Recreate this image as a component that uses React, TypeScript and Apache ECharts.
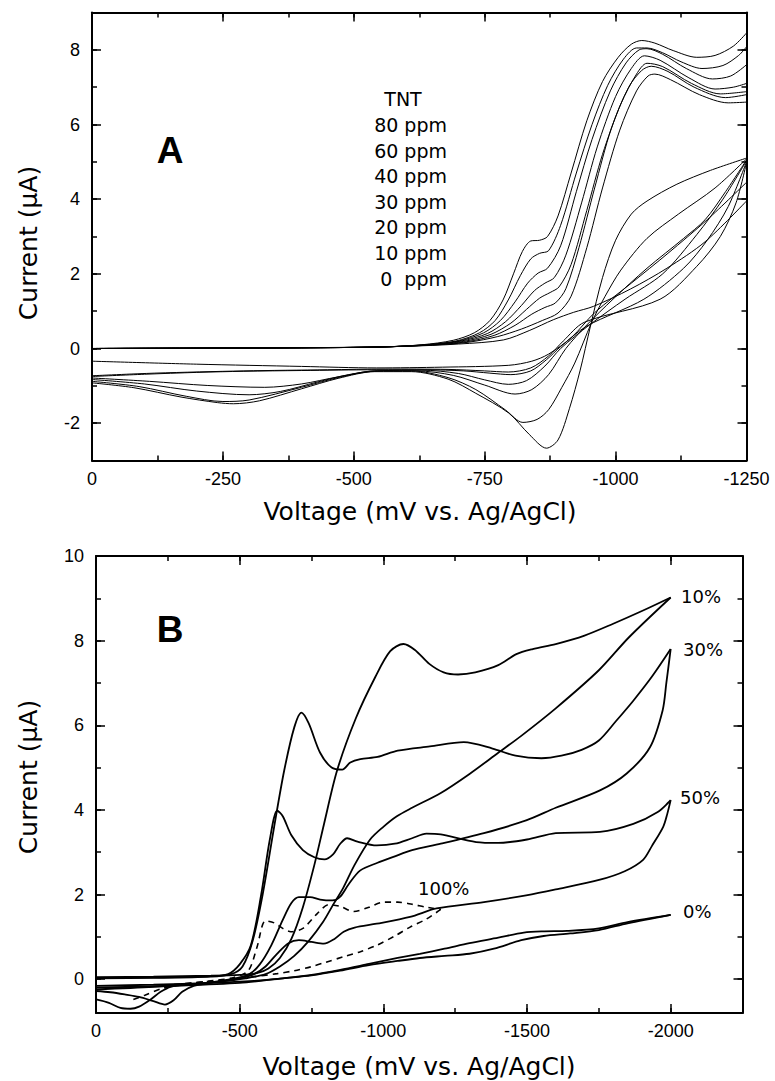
import React, { useEffect, useRef } from "react";
import * as echarts from "echarts";

// ---------- Tick values ----------
const aXMajor = [0, -250, -500, -750, -1000, -1250];
const aXMinor = [0, -125, -250, -375, -500, -625, -750, -875, -1000, -1125, -1250];
const aYMajor = [-2, 0, 2, 4, 6, 8];
const aYMinor = [-3, -2, -1, 0, 1, 2, 3, 4, 5, 6, 7, 8, 9];
const bXMajor = [0, -500, -1000, -1500, -2000];
const bXMinor = [0, -250, -500, -750, -1000, -1250, -1500, -1750, -2000, -2250];
const bYMajor = [0, 2, 4, 6, 8, 10];
const bYMinor = [0, 1, 2, 3, 4, 5, 6, 7, 8, 9, 10];

// ---------- Panel A: TNT concentrations (forward scans, upper branches) ----------
const fwd80 = [[0,0],[-200,0.01],[-400,0.02],[-550,0.04],[-630,0.1],[-690,0.22],[-730,0.42],[-760,0.75],[-785,1.3],[-805,2.0],[-822,2.6],[-838,2.88],[-855,2.9],[-870,3.0],[-890,3.55],[-915,4.7],[-945,6.1],[-975,7.15],[-1005,7.8],[-1030,8.15],[-1050,8.25],[-1075,8.18],[-1110,7.98],[-1155,7.8],[-1190,7.85],[-1225,8.1],[-1250,8.45]];
const fwd60 = [[0,0],[-200,0.01],[-400,0.02],[-550,0.04],[-635,0.1],[-695,0.2],[-740,0.42],[-770,0.75],[-795,1.3],[-818,1.95],[-838,2.4],[-855,2.55],[-872,2.62],[-895,3.3],[-925,4.7],[-955,6.0],[-985,7.05],[-1015,7.75],[-1040,8.05],[-1060,8.05],[-1090,7.92],[-1125,7.68],[-1165,7.5],[-1205,7.58],[-1235,7.85],[-1250,8.08]];
const fwd40 = [[0,0],[-200,0.01],[-400,0.02],[-550,0.04],[-640,0.1],[-700,0.2],[-748,0.42],[-780,0.75],[-808,1.25],[-832,1.75],[-852,2.02],[-870,2.15],[-895,2.75],[-925,4.2],[-955,5.6],[-990,6.9],[-1020,7.65],[-1045,8.0],[-1060,8.03],[-1090,7.88],[-1135,7.5],[-1185,7.22],[-1220,7.3],[-1250,7.6]];
const fwd30 = [[0,0],[-200,0.01],[-400,0.02],[-550,0.04],[-645,0.1],[-705,0.2],[-755,0.4],[-790,0.72],[-820,1.15],[-845,1.55],[-865,1.75],[-883,1.9],[-905,2.5],[-935,3.9],[-965,5.4],[-1000,6.75],[-1030,7.5],[-1055,7.84],[-1085,7.72],[-1140,7.25],[-1190,6.95],[-1225,7.0],[-1250,7.1]];
const fwd20 = [[0,0],[-200,0.01],[-400,0.02],[-550,0.04],[-650,0.1],[-710,0.19],[-762,0.38],[-800,0.68],[-830,1.05],[-855,1.35],[-875,1.5],[-892,1.65],[-915,2.25],[-945,3.7],[-975,5.2],[-1010,6.55],[-1040,7.35],[-1060,7.64],[-1090,7.55],[-1145,7.1],[-1200,6.82],[-1250,6.88]];
const fwd10 = [[0,0],[-200,0.01],[-400,0.02],[-550,0.04],[-655,0.1],[-715,0.18],[-768,0.35],[-808,0.62],[-840,0.92],[-865,1.1],[-885,1.22],[-905,1.6],[-930,2.7],[-960,4.3],[-992,5.9],[-1025,7.0],[-1050,7.45],[-1068,7.56],[-1100,7.42],[-1150,7.0],[-1210,6.72],[-1250,6.8]];
const fwd0 = [[0,0],[-200,0.01],[-400,0.02],[-550,0.04],[-660,0.1],[-720,0.17],[-775,0.32],[-820,0.52],[-860,0.75],[-890,0.95],[-915,1.4],[-945,2.7],[-975,4.3],[-1008,5.85],[-1040,6.9],[-1062,7.3],[-1075,7.35],[-1105,7.2],[-1160,6.8],[-1215,6.58],[-1250,6.6]];
const blankFwd = [[0,0],[-400,0.02],[-600,0.06],[-700,0.12],[-786,0.23],[-835,0.48],[-881,0.77],[-920,0.97],[-958,1.13],[-1028,1.59],[-1098,2.15],[-1171,2.86],[-1250,3.95]];

// ---------- Panel A: reverse scans (lower branches) ----------
const rev80 = [[0,-0.92],[-80,-1.05],[-170,-1.3],[-240,-1.45],[-270,-1.48],[-320,-1.4],[-400,-1.08],[-470,-0.8],[-540,-0.62],[-610,-0.62],[-680,-0.82],[-733,-1.2],[-796,-1.73],[-835,-2.3],[-868,-2.67],[-890,-2.45],[-912,-1.6],[-932,-0.6],[-952,0.6],[-975,1.9],[-1000,2.9],[-1030,3.6],[-1060,3.95],[-1117,4.4],[-1181,4.77],[-1250,5.1]];
const rev60 = [[0,-0.88],[-90,-1.02],[-180,-1.28],[-250,-1.42],[-300,-1.38],[-400,-1.04],[-470,-0.78],[-540,-0.6],[-610,-0.6],[-680,-0.78],[-733,-1.1],[-790,-1.65],[-823,-1.98],[-850,-1.9],[-872,-1.64],[-897,-1.05],[-922,-0.39],[-954,0.69],[-980,1.4],[-1010,2.1],[-1060,2.95],[-1120,3.6],[-1190,4.3],[-1250,5.08]];
const rev40 = [[0,-0.83],[-100,-0.95],[-200,-1.14],[-300,-1.24],[-360,-1.15],[-430,-0.9],[-490,-0.7],[-545,-0.6],[-620,-0.6],[-690,-0.72],[-750,-0.98],[-808,-1.22],[-840,-1.1],[-872,-0.7],[-905,0.0],[-945,0.63],[-995,1.32],[-1060,2.15],[-1130,2.95],[-1171,3.45],[-1210,4.2],[-1250,5.05]];
const rev30 = [[0,-0.79],[-110,-0.88],[-220,-0.99],[-330,-1.04],[-400,-0.95],[-470,-0.76],[-545,-0.6],[-630,-0.58],[-700,-0.67],[-750,-0.84],[-795,-0.96],[-830,-0.86],[-865,-0.47],[-895,0.0],[-950,0.63],[-1018,1.32],[-1090,2.0],[-1155,3.05],[-1205,4.0],[-1250,5.03]];
const rev20 = [[0,-0.75],[-100,-0.69],[-200,-0.64],[-290,-0.61],[-400,-0.59],[-543,-0.57],[-640,-0.57],[-710,-0.6],[-760,-0.66],[-800,-0.7],[-838,-0.6],[-868,-0.3],[-895,0.05],[-945,0.6],[-1054,1.32],[-1130,2.15],[-1175,2.9],[-1215,3.8],[-1250,5.0]];
const rev10 = [[0,-0.73],[-120,-0.66],[-290,-0.6],[-450,-0.57],[-560,-0.55],[-680,-0.56],[-750,-0.6],[-795,-0.63],[-838,-0.52],[-872,-0.2],[-900,0.2],[-940,0.7],[-1085,1.32],[-1155,2.2],[-1200,3.0],[-1230,3.9],[-1250,4.98]];
const rev0 = [[0,-0.34],[-200,-0.42],[-400,-0.48],[-543,-0.52],[-669,-0.5],[-796,-0.45],[-840,-0.34],[-872,-0.15],[-916,0.3],[-960,0.96],[-1030,1.75],[-1100,2.55],[-1175,3.45],[-1250,4.45]];

const legendA = ["TNT", "80 ppm", "60 ppm", "40 ppm", "30 ppm", "20 ppm", "10 ppm", "0  ppm"];

// ---------- Panel B ----------
const b10Fwd = [[0,0.05],[-200,0.06],[-400,0.08],[-500,0.1],[-560,0.14],[-600,0.25],[-640,0.5],[-680,0.95],[-720,1.7],[-760,2.7],[-793,3.65],[-839,4.93],[-904,6.16],[-972,7.14],[-1024,7.75],[-1070,7.92],[-1110,7.78],[-1160,7.45],[-1210,7.25],[-1260,7.2],[-1320,7.25],[-1400,7.42],[-1463,7.68],[-1520,7.8],[-1600,7.92],[-1700,8.12],[-1800,8.4],[-1900,8.7],[-2000,9.02]];
const b10Rev = [[-2000,9.02],[-1855,8.08],[-1750,7.3],[-1600,6.4],[-1480,5.75],[-1400,5.35],[-1300,4.85],[-1200,4.4],[-1100,4.05],[-1047,3.85],[-1000,3.6],[-954,3.3],[-900,2.7],[-860,2.15],[-828,1.79],[-790,1.35],[-740,0.9],[-690,0.55],[-640,0.3],[-590,0.12],[-520,0.02],[-430,-0.06],[-330,-0.12],[-260,-0.18],[-225,-0.3],[-190,-0.48],[-150,-0.65],[-120,-0.7],[-85,-0.68],[-45,-0.56],[0,-0.48]];
const b30Fwd = [[0,0.03],[-200,0.04],[-400,0.07],[-470,0.12],[-510,0.3],[-545,0.9],[-580,2.0],[-620,3.6],[-655,4.93],[-690,5.95],[-715,6.3],[-740,6.05],[-780,5.35],[-820,5.0],[-857,4.95],[-885,5.12],[-920,5.2],[-980,5.25],[-1050,5.4],[-1162,5.5],[-1280,5.6],[-1380,5.45],[-1460,5.28],[-1550,5.22],[-1620,5.28],[-1690,5.42],[-1750,5.64],[-1810,6.1],[-1870,6.58],[-1935,7.15],[-2000,7.8]];
const b30Rev = [[-2000,7.8],[-1985,7.0],[-1972,6.35],[-1928,5.48],[-1847,4.86],[-1754,4.46],[-1600,4.05],[-1497,3.75],[-1350,3.45],[-1200,3.2],[-1100,3.05],[-1035,2.89],[-980,2.75],[-920,2.57],[-880,2.25],[-850,1.95],[-823,1.86],[-780,1.88],[-745,1.94],[-706,1.94],[-680,1.8],[-650,1.4],[-610,0.8],[-570,0.35],[-530,0.1],[-470,0.0],[-400,-0.08],[-340,-0.16],[-300,-0.3],[-270,-0.5],[-240,-0.6],[-200,-0.52],[-150,-0.42],[-100,-0.36],[-50,-0.31],[0,-0.28]];
const b50Fwd = [[0,0.02],[-200,0.03],[-400,0.06],[-460,0.12],[-500,0.35],[-539,0.8],[-575,2.0],[-605,3.3],[-631,3.98],[-650,3.85],[-680,3.4],[-720,3.05],[-760,2.88],[-795,2.83],[-825,2.95],[-850,3.2],[-874,3.33],[-910,3.25],[-977,3.16],[-1040,3.2],[-1100,3.33],[-1150,3.44],[-1200,3.42],[-1323,3.24],[-1400,3.22],[-1500,3.3],[-1600,3.45],[-1754,3.48],[-1870,3.67],[-1955,3.95],[-2000,4.23]];
const b50Rev = [[-2000,4.23],[-1988,3.9],[-1974,3.6],[-1935,3.15],[-1904,2.82],[-1840,2.55],[-1754,2.35],[-1600,2.12],[-1497,1.98],[-1350,1.82],[-1185,1.67],[-1093,1.47],[-977,1.31],[-900,1.22],[-862,1.12],[-830,0.95],[-793,0.84],[-750,0.88],[-706,0.92],[-670,0.85],[-630,0.6],[-590,0.3],[-550,0.12],[-500,0.02],[-400,-0.08],[-200,-0.18],[0,-0.24]];
const b0Fwd = [[0,-0.16],[-200,-0.13],[-400,-0.09],[-550,-0.04],[-650,0.02],[-750,0.1],[-850,0.22],[-950,0.36],[-1050,0.5],[-1127,0.6],[-1213,0.72],[-1300,0.85],[-1400,0.98],[-1489,1.1],[-1560,1.13],[-1640,1.14],[-1750,1.2],[-1850,1.35],[-2000,1.52]];
const b0Rev = [[-2000,1.52],[-1850,1.32],[-1750,1.16],[-1650,1.08],[-1558,1.02],[-1480,0.92],[-1385,0.72],[-1300,0.6],[-1213,0.55],[-1127,0.5],[-1050,0.43],[-950,0.33],[-850,0.2],[-750,0.09],[-650,0.02],[-500,-0.09],[-300,-0.15],[0,-0.2]];
const b100Fwd = [[-130,-0.48],[-170,-0.38],[-230,-0.22],[-300,-0.12],[-400,-0.04],[-480,0.04],[-530,0.2],[-560,0.75],[-590,1.38],[-620,1.33],[-650,1.2],[-678,1.12],[-720,1.2],[-770,1.55],[-810,1.76],[-850,1.72],[-897,1.6],[-950,1.7],[-1000,1.82],[-1050,1.82],[-1100,1.77],[-1150,1.7],[-1200,1.65]];
const b100Rev = [[-1200,1.65],[-1150,1.42],[-1093,1.23],[-1040,1.02],[-977,0.8],[-920,0.65],[-862,0.53],[-800,0.4],[-747,0.29],[-690,0.2],[-631,0.13],[-539,0.05],[-450,-0.02],[-350,-0.08],[-250,-0.14]];

const labelsB = ["10%", "30%", "50%", "0%", "100%"];

// ---------- Layout ----------
const GA = { left: 92, top: 12.5, width: 654.5, height: 448 };
const GB = { left: 96, top: 556, width: 646.5, height: 457 };

function axes(dim: "x" | "y", gridIndex: number, min: number, max: number, major: number[], minor: number[], inverse: boolean) {
  const common: any = { type: "value", gridIndex, min, max, inverse, splitLine: { show: false } };
  const p1 = dim === "x" ? "bottom" : "left";
  const p2 = dim === "x" ? "top" : "right";
  const majorAxis = (pos: string, labels: boolean) => ({
    ...common,
    position: pos,
    axisLine: { show: true, onZero: false, lineStyle: { color: "#000", width: 2 } },
    axisTick: { show: true, inside: true, length: 9, customValues: major, lineStyle: { color: "#000", width: 1.5 } },
    axisLabel: {
      show: labels,
      customValues: major,
      formatter: (v: number) => String(v),
      color: "#000",
      fontFamily: "Liberation Sans",
      fontSize: 18,
      margin: dim === "x" ? 9 : 12,
    },
  });
  const minorAxis = (pos: string) => ({
    ...common,
    position: pos,
    axisLine: { show: false, onZero: false },
    axisTick: { show: true, inside: true, length: 5, customValues: minor, lineStyle: { color: "#000", width: 1.5 } },
    axisLabel: { show: false },
  });
  return [majorAxis(p1, true), minorAxis(p1), majorAxis(p2, false), minorAxis(p2)];
}

function line(data: number[][], width: number, xi: number, yi: number, dashed = false) {
  return {
    type: "line",
    data,
    xAxisIndex: xi,
    yAxisIndex: yi,
    showSymbol: false,
    symbol: "none",
    smooth: 0.3,
    silent: true,
    lineStyle: { color: "#000", width, type: dashed ? [6, 5] : "solid" },
  };
}

function txt(text: string, x: number, y: number, font: string, align = "center", rotation = 0) {
  return {
    type: "text",
    x,
    y,
    rotation,
    silent: true,
    style: { text, font, fill: "#000", textAlign: align, textVerticalAlign: "middle" },
  };
}

export default function App() {
  const ref = useRef<HTMLDivElement>(null);
  useEffect(() => {
    if (!ref.current) return;
    const chart = echarts.init(ref.current, undefined, { renderer: "svg" });
    const aSeries = [fwd80, fwd60, fwd40, fwd30, fwd20, fwd10, fwd0, blankFwd, rev80, rev60, rev40, rev30, rev20, rev10, rev0].map((d) => line(d, 1, 0, 0));
    const bSeries = [b10Fwd, b10Rev, b30Fwd, b30Rev, b50Fwd, b50Rev, b0Fwd, b0Rev].map((d) => line(d, 1.8, 4, 4));
    bSeries.push(line(b100Fwd, 1.6, 4, 4, true), line(b100Rev, 1.6, 4, 4, true));

    const titleFont = '25px "DejaVu Sans"';
    const legFont = '19px "DejaVu Sans"';
    const annFont = '18px "DejaVu Sans"';
    const graphic: any[] = [
      txt("A", 170, 150, 'bold 37px "Liberation Sans"'),
      txt("B", 170, 629, 'bold 37px "Liberation Sans"'),
      txt("Current (μA)", 28, 243, titleFont, "center", Math.PI / 2),
      txt("Current (μA)", 28, 777, titleFont, "center", Math.PI / 2),
      txt("Voltage (mV vs. Ag/AgCl)", 420, 511, titleFont),
      txt("Voltage (mV vs. Ag/AgCl)", 419, 1066, titleFont),
      txt(legendA[0], 403, 99, legFont),
    ];
    legendA.slice(1).forEach((t, i) => graphic.push(txt(t, 447, 125 + i * 25.6, legFont, "right")));
    graphic.push(
      txt(labelsB[0], 681, 596, annFont, "left"),
      txt(labelsB[1], 683, 649, annFont, "left"),
      txt(labelsB[2], 680, 797, annFont, "left"),
      txt(labelsB[3], 683, 911, annFont, "left"),
      txt(labelsB[4], 418, 888, annFont, "left")
    );

    chart.setOption({
      animation: false,
      backgroundColor: "#fff",
      grid: [
        { ...GA, containLabel: false },
        { ...GB, containLabel: false },
      ],
      xAxis: [...axes("x", 0, -1250, 0, aXMajor, aXMinor, true), ...axes("x", 1, -2250, 0, bXMajor, bXMinor, true)],
      yAxis: [...axes("y", 0, -3, 9, aYMajor, aYMinor, false), ...axes("y", 1, -0.8, 10, bYMajor, bYMinor, false)],
      series: [...aSeries, ...bSeries],
      graphic,
    });
    return () => chart.dispose();
  }, []);
  return <div ref={ref} style={{ position: "absolute", left: 0, top: 0, width: 775, height: 1081, background: "#fff" }} />;
}
